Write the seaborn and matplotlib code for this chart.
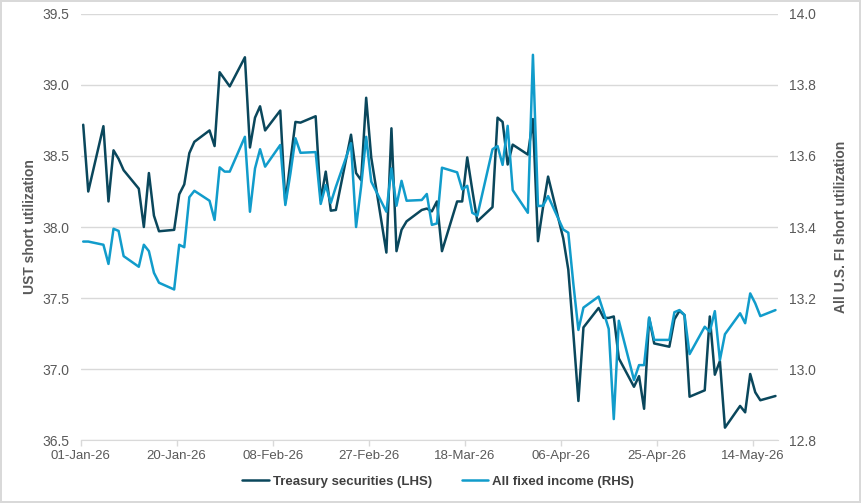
import pandas as pd
import seaborn as sns
import matplotlib.pyplot as plt
import matplotlib.dates as mdates

sns.set_style("white")
plt.rcParams["font.family"] = ["Liberation Sans", "DejaVu Sans"]

# weekday dates, 01-Jan-26 .. 18-May-26
dates = pd.bdate_range("2026-01-01", "2026-05-18")

# Treasury securities short utilization (LHS)
treasury = [
    38.72, 38.25, 38.71, 38.18, 38.54, 38.48, 38.40, 38.27, 38.00, 38.38,
    38.08, 37.97, 37.98, 38.23, 38.30, 38.52, 38.60, 38.68, 38.57, 39.09,
    39.04, 38.99,
    39.195, 38.56, 38.77, 38.85, 38.68, 38.82, 38.17, 38.46, 38.74, 38.735,
    38.78, 38.19, 38.39, 38.115, 38.12, 38.65, 38.38, 38.33, 38.91, 38.49,
    37.82, 38.695, 37.83, 37.98, 38.04, 38.12, 38.13, 38.11, 38.18, 37.83,
    38.18, 38.18, 38.49, 38.26, 38.04, 38.14, 38.77, 38.74, 38.44, 38.58,
    38.51, 38.76,
    37.90, 38.14, 38.355, 37.92, 37.70, 37.25, 36.775, 37.293, 37.43, 37.36,
    37.36, 37.37, 37.075, 36.875, 36.95, 36.72, 37.36, 37.18, 37.157, 37.35,
    37.41, 37.38,
    36.805, 36.85, 37.37, 36.96, 37.056, 36.587, 36.74, 36.695, 36.965, 36.836,
    36.78, 36.81,
]

# All fixed income short utilization (RHS)
all_fi = [
    13.359, 13.359, 13.350, 13.296, 13.395, 13.389, 13.318, 13.288, 13.350, 13.332,
    13.271, 13.243, 13.224, 13.350, 13.343, 13.484, 13.502, 13.474, 13.420, 13.568,
    13.556, 13.556,
    13.654, 13.443, 13.565, 13.619, 13.570, 13.631, 13.462, 13.550, 13.650, 13.609,
    13.611, 13.465, 13.518, 13.468, 13.513, 13.636, 13.400, 13.514, 13.654, 13.528,
    13.443, 13.565, 13.460, 13.530, 13.474, 13.476, 13.493, 13.406, 13.410, 13.567,
    13.554, 13.506, 13.516, 13.440, 13.432, 13.619, 13.628, 13.575, 13.685, 13.504,
    13.440, 13.885,
    13.459, 13.460, 13.487, 13.393, 13.384, 13.240, 13.110, 13.173, 13.204, 13.160,
    13.113, 12.859, 13.136, 12.969, 13.011, 13.011, 13.145, 13.082, 13.082, 13.160,
    13.166, 13.152,
    13.042, 13.119, 13.105, 13.163, 13.025, 13.098, 13.157, 13.129, 13.213, 13.185,
    13.149, 13.166,
]

tick_dates = pd.date_range("2026-01-01", periods=8, freq="19D")

dark = "#0A475C"
light = "#119CCB"
grey = "#595959"

df = pd.DataFrame({
    # points sit in the middle of their day, like the source chart
    "date": dates + pd.Timedelta(hours=12),
    "treasury": treasury,
    "all_fi": all_fi,
})

fig = plt.figure(figsize=(8.61, 5.03), dpi=100)
fig.patch.set_edgecolor("#D9D9D9")
fig.patch.set_linewidth(1.5)
ax = fig.add_axes([0.0937, 0.1252, 0.8099, 0.847])
ax2 = ax.twinx()

sns.lineplot(data=df, x="date", y="treasury", ax=ax, color=dark, lw=1.8,
             label="Treasury securities (LHS)", legend=False)
sns.lineplot(data=df, x="date", y="all_fi", ax=ax2, color=light, lw=1.8,
             label="All fixed income (RHS)", legend=False)

ax.set_xlim(pd.Timestamp("2026-01-01"), pd.Timestamp("2026-05-19"))
ax.set_ylim(36.5, 39.5)
ax2.set_ylim(12.8, 14.0)
ax.set_yticks([36.5, 37.0, 37.5, 38.0, 38.5, 39.0, 39.5])
ax2.set_yticks([12.8, 13.0, 13.2, 13.4, 13.6, 13.8, 14.0])
ax.yaxis.set_major_formatter(plt.FormatStrFormatter("%.1f"))
ax2.yaxis.set_major_formatter(plt.FormatStrFormatter("%.1f"))
ax.set_xticks(tick_dates)
ax.xaxis.set_major_formatter(mdates.DateFormatter("%d-%b-%y"))

ax.grid(axis="y", color="#D9D9D9", lw=1)
ax.set_axisbelow(True)
for a in (ax, ax2):
    for s in ("top", "left", "right"):
        a.spines[s].set_visible(False)
    a.spines["bottom"].set_color("#D9D9D9")
ax2.spines["bottom"].set_visible(False)

ax.tick_params(axis="x", colors=grey, labelsize=9.5, length=4, width=1,
               color="#D9D9D9", pad=3, bottom=True)
ax.tick_params(axis="y", colors=grey, labelsize=10, length=0, pad=8)
ax2.tick_params(axis="y", colors=grey, labelsize=10, length=0, pad=8)

ax.set_xlabel("")
ax.set_ylabel("UST short utilization", color=grey, fontsize=10,
              fontweight="bold", labelpad=4)
ax2.set_ylabel("All U.S. FI short utilization", color=grey, fontsize=10,
               fontweight="bold", rotation=90, labelpad=13)

handles = ax.get_lines()[:1] + ax2.get_lines()[:1]
fig.legend(handles, [h.get_label() for h in handles], loc="center",
           bbox_to_anchor=(0.509, 0.042), ncol=2, frameon=False,
           handlelength=2.0, columnspacing=2.3, handletextpad=0.3,
           prop={"weight": "bold", "size": 9.5}, labelcolor="#404040")

plt.savefig("out.png", dpi=100)
plt.close()
